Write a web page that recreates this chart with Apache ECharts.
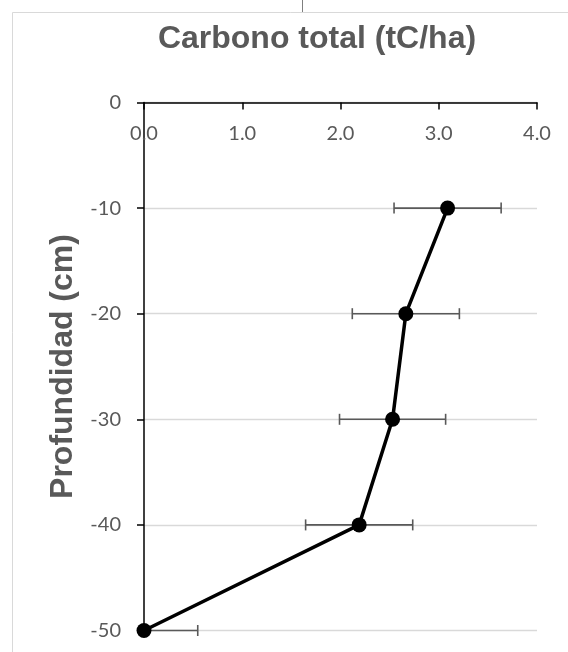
<!DOCTYPE html>
<html>
<head>
<meta charset="utf-8">
<script src="https://cdn.jsdelivr.net/npm/echarts@6/dist/echarts.min.js"></script>
<style>
html,body{margin:0;padding:0;background:#fff;}
#chart{width:568px;height:652px;}
</style>
</head>
<body>
<div id="chart"></div>
<script>
// Data
const depths = [-10, -20, -30, -40, -50];          // Profundidad (cm)
const carbon = [3.09, 2.665, 2.53, 2.19, 0.0];      // Carbono total (tC/ha)
const errors = [0.545, 0.545, 0.54, 0.545, 0.547];  // error bar half-width (tC/ha)
const xTicks = [0, 1, 2, 3, 4];
const yTicks = [-50, -40, -30, -20, -10, 0];

const lineData = depths.map((d, i) => [carbon[i], d]);
const errData = depths.map((d, i) => [carbon[i] - errors[i], carbon[i] + errors[i], d]);

const labelColor = '#595959';
const numFont = 'Lato, "Open Sans", sans-serif';
const titleFont = '"Liberation Sans", Arial, sans-serif';
const xMin = xTicks[0], xMax = xTicks[xTicks.length - 1];

const chart = echarts.init(document.getElementById('chart'), null, {renderer: 'canvas'});
chart.setOption({
  animation: false,
  backgroundColor: '#ffffff',
  title: {
    text: 'Carbono total (tC/ha)',
    left: 312,
    top: 18,
    textAlign: 'center',
    textStyle: {fontSize: 32, fontWeight: 'bold', color: labelColor, fontFamily: titleFont}
  },
  graphic: [
    {type: 'rect', shape: {x: 12.5, y: 12.5, width: 800, height: 800},
     style: {fill: 'none', stroke: '#d9d9d9', lineWidth: 1}, silent: true, z: -10},
    {type: 'line', shape: {x1: 302.5, y1: 0, x2: 302.5, y2: 12},
     style: {stroke: '#7f7f7f', lineWidth: 1}, silent: true}
  ],
  grid: {left: 144, top: 102.5, right: 31, bottom: 21.5, containLabel: false},
  xAxis: {
    type: 'value',
    position: 'top',
    min: xMin,
    max: xMax,
    interval: 1,
    axisLine: {show: true, onZero: false, lineStyle: {color: '#000', width: 1.5}},
    axisTick: {show: true, inside: true, length: 7, lineStyle: {color: '#000', width: 1.5}},
    axisLabel: {inside: true, margin: 21, color: labelColor, fontSize: 20, fontFamily: numFont,
      formatter: v => v.toFixed(1)},
    splitLine: {show: false}
  },
  yAxis: {
    type: 'value',
    min: yTicks[0],
    max: yTicks[yTicks.length - 1],
    interval: 10,
    name: 'Profundidad (cm)',
    nameLocation: 'middle',
    nameGap: 62,
    nameTextStyle: {fontSize: 32, fontWeight: 'bold', color: labelColor, fontFamily: titleFont},
    axisLine: {show: true, onZero: false, lineStyle: {color: '#000', width: 1.5}},
    axisTick: {show: true, inside: false, length: 7, lineStyle: {color: '#000', width: 1.5}},
    axisLabel: {margin: 23, color: labelColor, fontSize: 20, fontFamily: numFont},
    splitLine: {show: true, lineStyle: {color: '#d9d9d9', width: 1.3}}
  },
  series: [
    {
      type: 'custom',
      name: 'error',
      z: 2,
      data: errData,
      encode: {x: [0, 1], y: 2},
      renderItem: function (params, api) {
        const loV = api.value(0), hiV = api.value(1), d = api.value(2);
        const lo = api.coord([Math.max(loV, xMin), d]);
        const hi = api.coord([Math.min(hiV, xMax), d]);
        const cap = 5.5;
        const st = {stroke: '#595959', lineWidth: 1.6};
        const kids = [{type: 'line', shape: {x1: lo[0], y1: lo[1], x2: hi[0], y2: hi[1]}, style: st}];
        if (loV >= xMin) kids.push({type: 'line', shape: {x1: lo[0], y1: lo[1] - cap, x2: lo[0], y2: lo[1] + cap}, style: st});
        if (hiV <= xMax) kids.push({type: 'line', shape: {x1: hi[0], y1: hi[1] - cap, x2: hi[0], y2: hi[1] + cap}, style: st});
        return {type: 'group', children: kids};
      }
    },
    {
      type: 'line',
      name: 'Carbono',
      z: 5,
      data: lineData,
      symbol: 'circle',
      symbolSize: 15,
      itemStyle: {color: '#000'},
      lineStyle: {color: '#000', width: 3.5},
      clip: false
    }
  ]
});
</script>
</body>
</html>
